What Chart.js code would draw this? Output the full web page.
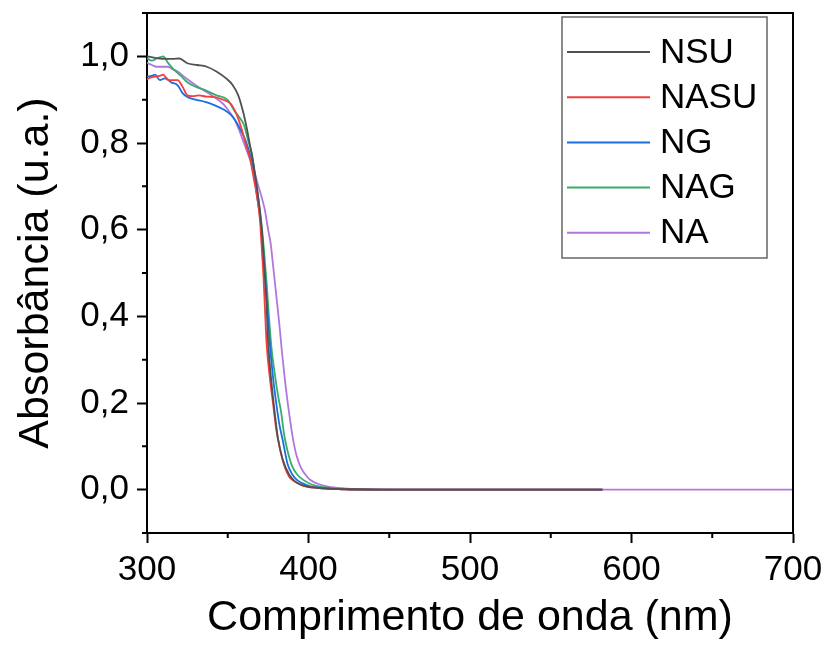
<!DOCTYPE html>
<html>
<head>
<meta charset="utf-8">
<script src="https://cdn.jsdelivr.net/npm/chart.js@4.4.1/dist/chart.umd.min.js"></script>
<style>
  html, body { margin: 0; padding: 0; background: #fff; }
  canvas { display: block; }
</style>
</head>
<body>
<canvas id="absChart" width="827" height="653"></canvas>
<script>
const seriesNames = ['NSU', 'NASU', 'NG', 'NAG', 'NA'];
const seriesColors = ['#515151', '#F14040', '#1A6FDF', '#37AD6B', '#B177DE'];

// wavelength (nm) / absorbance pairs
const nsuWl  = [300, 308, 316, 320, 325, 331, 337, 343, 349, 353, 356.5, 359.5, 362, 364, 366, 368, 370, 371.5, 372.5, 374, 375, 377, 379, 381, 384, 388, 392, 398, 410, 425, 450, 500, 582];
const nsuAbs = [1.0, 0.995, 0.994, 0.995, 0.984, 0.98, 0.976, 0.965, 0.949, 0.934, 0.91, 0.872, 0.83, 0.79, 0.75, 0.70, 0.64, 0.58, 0.52, 0.43, 0.34, 0.25, 0.18, 0.12, 0.07, 0.035, 0.018, 0.008, 0.003, 0.001, 0, 0, 0];

const nasuWl  = [300, 303, 305, 308, 310, 312, 314, 319, 322, 325, 328, 332, 337, 342, 347, 352, 355, 358, 361, 364, 366, 368, 370, 371, 372, 373, 374, 376, 378, 380, 382, 385, 388, 391, 396, 405, 420, 450, 500, 582];
const nasuAbs = [0.947, 0.952, 0.953, 0.955, 0.958, 0.95, 0.945, 0.945, 0.93, 0.91, 0.908, 0.91, 0.907, 0.906, 0.9, 0.89, 0.87, 0.84, 0.8, 0.76, 0.72, 0.68, 0.62, 0.56, 0.5, 0.42, 0.34, 0.26, 0.2, 0.14, 0.1, 0.055, 0.03, 0.02, 0.01, 0.004, 0.001, 0, 0, 0];

const ngWl  = [300, 303, 305, 308, 311, 315, 319, 322, 325, 330, 336, 342, 348, 352, 355, 358, 361, 364, 366, 368, 370, 371.5, 373, 374.5, 376, 378, 380, 382, 384, 387, 390, 393, 398, 405, 420, 450, 500, 582];
const ngAbs = [0.953, 0.955, 0.958, 0.945, 0.949, 0.94, 0.933, 0.915, 0.906, 0.9, 0.895, 0.887, 0.876, 0.865, 0.85, 0.83, 0.806, 0.77, 0.73, 0.68, 0.63, 0.57, 0.5, 0.42, 0.34, 0.26, 0.2, 0.15, 0.115, 0.06, 0.035, 0.022, 0.012, 0.005, 0.001, 0, 0, 0];

const nagWl  = [300, 303, 306, 310, 313, 317, 321, 325, 330, 336, 343, 350, 354, 357, 360, 363, 365, 367, 369, 371, 372.5, 374, 375.5, 377, 379, 381, 383, 385, 387, 390, 393, 397, 402, 410, 425, 450, 500, 582];
const nagAbs = [0.995, 0.99, 0.995, 1.0, 0.985, 0.968, 0.955, 0.94, 0.93, 0.922, 0.91, 0.899, 0.875, 0.86, 0.842, 0.8, 0.775, 0.72, 0.67, 0.61, 0.55, 0.48, 0.4, 0.33, 0.27, 0.22, 0.18, 0.125, 0.09, 0.053, 0.035, 0.022, 0.012, 0.005, 0.001, 0, 0, 0];

const naWl  = [300, 303, 306, 310, 313, 316, 319, 324, 330, 335, 340, 345, 348, 351, 354, 357, 360, 363, 366, 369, 371, 373, 375, 376.5, 378, 380, 382, 383.5, 385.5, 387.5, 389, 390.5, 392.5, 395, 398, 401, 406, 412, 422, 435, 450, 500, 600, 700];
const naAbs = [0.985, 0.98, 0.976, 0.976, 0.976, 0.97, 0.965, 0.95, 0.934, 0.922, 0.91, 0.897, 0.887, 0.872, 0.856, 0.83, 0.8, 0.77, 0.74, 0.70, 0.675, 0.645, 0.60, 0.57, 0.52, 0.45, 0.38, 0.32, 0.25, 0.19, 0.15, 0.115, 0.08, 0.053, 0.035, 0.023, 0.013, 0.007, 0.003, 0.001, 0, 0, 0, 0];

const xMin = 300, xMax = 700, xStep = 50;
const yMin = -0.1, yMax = 1.1, yStep = 0.1;

const allWl = [nsuWl, nasuWl, ngWl, nagWl, naWl];
const allAbs = [nsuAbs, nasuAbs, ngAbs, nagAbs, naAbs];

const FONT = "'Liberation Sans', Arial, sans-serif";

function isMajorX(v) { return Math.round(v) % 100 === 0; }
function isMajorY(v) { return Math.round(v * 10) % 2 === 0; }

// frame on top/right, short minor ticks, legend box inside the plot
const framePlugin = {
    id: 'framePlugin',
    afterDraw(chart) {
        const { ctx, chartArea: a, scales } = chart;
        ctx.save();
        ctx.strokeStyle = '#000';
        ctx.lineWidth = 2;
        ctx.beginPath();
        ctx.moveTo(a.left, a.top);
        ctx.lineTo(a.right, a.top);
        ctx.lineTo(a.right, a.bottom);
        ctx.stroke();

        ctx.beginPath();
        scales.x.ticks.forEach(t => {
            if (isMajorX(t.value)) return;
            const px = scales.x.getPixelForValue(t.value);
            ctx.moveTo(px, a.bottom);
            ctx.lineTo(px, a.bottom + 5);
        });
        scales.y.ticks.forEach(t => {
            if (isMajorY(t.value)) return;
            const py = scales.y.getPixelForValue(t.value);
            ctx.moveTo(a.left, py);
            ctx.lineTo(a.left - 5, py);
        });
        ctx.stroke();

        // legend
        ctx.strokeStyle = '#666';
        ctx.lineWidth = 1.5;
        ctx.strokeRect(562, 17, 205, 241);
        ctx.font = '35px ' + FONT;
        ctx.textBaseline = 'middle';
        ctx.fillStyle = '#000';
        chart.data.datasets.forEach((ds, i) => {
            const y = 52 + i * 45.2;
            ctx.strokeStyle = ds.borderColor;
            ctx.lineWidth = 2;
            ctx.beginPath();
            ctx.moveTo(567, y);
            ctx.lineTo(650, y);
            ctx.stroke();
            ctx.fillText(ds.label, 660, y + 1);
        });
        ctx.restore();
    }
};

const datasets = seriesNames.map((name, i) => ({
    label: name,
    data: allWl[i].map((w, j) => ({ x: w, y: allAbs[i][j] })),
    borderColor: seriesColors[i],
    borderWidth: 1.8,
    pointRadius: 0,
    showLine: true,
    fill: false,
    cubicInterpolationMode: 'monotone'
}));

new Chart(document.getElementById('absChart'), {
    type: 'scatter',
    data: { datasets },
    options: {
        responsive: false,
        animation: false,
        events: [],
        layout: { padding: { top: 13, right: 34, bottom: 0, left: 0 } },
        plugins: { legend: { display: false }, tooltip: { enabled: false } },
        scales: {
            x: {
                type: 'linear',
                min: xMin, max: xMax,
                border: { display: true, color: '#000', width: 2 },
                grid: {
                    drawOnChartArea: false, drawTicks: true, tickLength: 10, tickWidth: 2,
                    tickColor: c => (c.tick && isMajorX(c.tick.value)) ? '#000' : 'rgba(0,0,0,0)'
                },
                ticks: {
                    stepSize: xStep, autoSkip: false, maxRotation: 0, padding: 6,
                    color: '#000', font: { family: FONT, size: 35 },
                    callback: v => isMajorX(v) ? String(Math.round(v)) : ''
                },
                title: {
                    display: true, text: 'Comprimento de onda (nm)', color: '#000',
                    font: { family: FONT, size: 43 }, padding: { top: 0, bottom: 9 }
                },
                afterFit: s => { s.height = 120; s.paddingLeft = 0; s.paddingRight = 0; }
            },
            y: {
                type: 'linear',
                min: yMin, max: yMax,
                border: { display: true, color: '#000', width: 2 },
                grid: {
                    drawOnChartArea: false, drawTicks: true, tickLength: 10, tickWidth: 2,
                    tickColor: c => (c.tick && isMajorY(c.tick.value)) ? '#000' : 'rgba(0,0,0,0)'
                },
                ticks: {
                    stepSize: yStep, autoSkip: false, padding: 8,
                    color: '#000', font: { family: FONT, size: 35 },
                    callback: v => {
                        if (!isMajorY(v)) return '';
                        if (Math.abs(v) < 1e-9) return '0,0';
                        return v.toFixed(1).replace('.', ',');
                    }
                },
                title: {
                    display: true, text: 'Absorbância (u.a.)', color: '#000',
                    font: { family: FONT, size: 43 }, padding: { top: 10, bottom: 0 }
                },
                afterFit: s => { s.width = 147; s.paddingTop = 0; s.paddingBottom = 0; }
            }
        }
    },
    plugins: [framePlugin]
});
</script>
</body>
</html>
